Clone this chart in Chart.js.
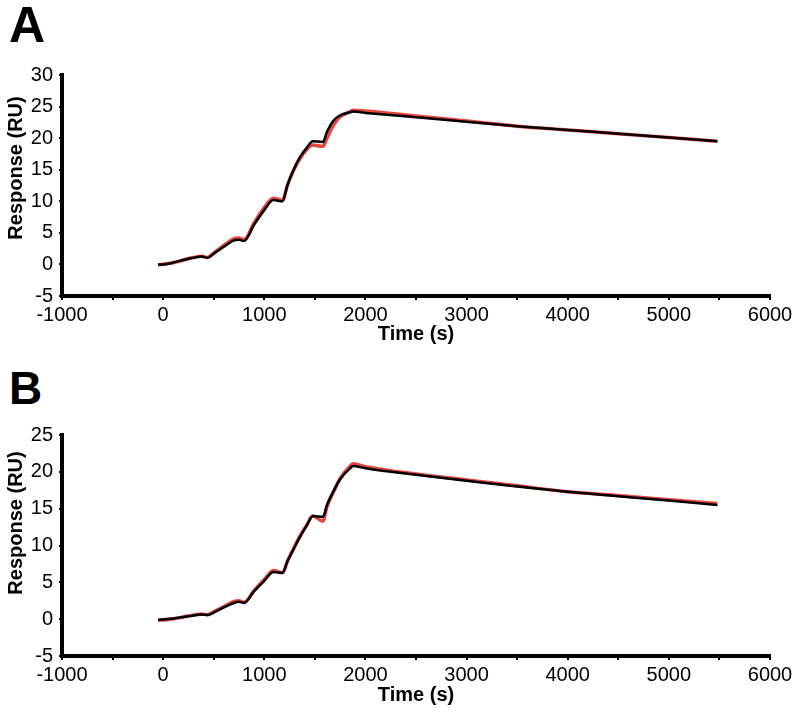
<!DOCTYPE html>
<html>
<head>
<meta charset="utf-8">
<script src="https://cdn.jsdelivr.net/npm/chart.js@4.4.1/dist/chart.umd.min.js"></script>
<style>
    body { margin: 0; background: #fff; font-family: "Liberation Sans", Arial, sans-serif; }
    .panel { position: absolute; left: 0; width: 800px; }
    .letter { position: absolute; left: 9px; font-weight: bold; line-height: 1; }
</style>
</head>
<body>
<div class="letter" style="top:0px; font-size:50px;">A</div>
<div class="panel" style="top:0; height:360px;"><canvas id="chartA"></canvas></div>
<div class="letter" style="top:365px; font-size:46px;">B</div>
<div class="panel" style="top:360px; height:357px;"><canvas id="chartB"></canvas></div>
<script>
// Time points (s)
let times = [-50, 0, 100, 200, 300, 380, 440, 500, 600, 700, 750, 800, 900, 1000, 1090, 1180,
    1230, 1290, 1350, 1420, 1480, 1580, 1620, 1685, 1750, 1850, 1880, 2000, 2500, 3000,
    3500, 4000, 4500, 5000, 5480];

// Panel A - fit (black) and measured (red)
let fitA = [0, 0, 0.3, 0.7, 1.05, 1.25, 1.05, 1.7, 2.8, 3.8, 3.9, 3.7, 6.3, 8.6, 10.2, 10.0,
    12.6, 15.0, 16.9, 18.5, 19.5, 19.4, 21.0, 22.8, 23.6, 24.1, 24.2, 24.0, 23.3, 22.6,
    21.9, 21.3, 20.7, 20.1, 19.5];
let dataA = [-0.1, 0.05, 0.25, 0.7, 1.1, 1.3, 1.1, 1.8, 3.0, 4.1, 4.2, 3.9, 6.6, 9.0, 10.5, 10.2,
    12.6, 14.9, 16.7, 18.2, 18.9, 18.7, 20.0, 22.1, 23.4, 24.2, 24.4, 24.3, 23.5, 22.7,
    21.9, 21.3, 20.7, 20.1, 19.5];

// Panel B
let fitB = [-0.1, -0.05, 0.1, 0.3, 0.5, 0.65, 0.55, 0.9, 1.6, 2.2, 2.35, 2.2, 3.8, 5.2, 6.4, 6.3,
    7.9, 9.5, 11.1, 12.7, 14.0, 13.9, 15.5, 17.4, 19.0, 20.5, 20.8, 20.5, 19.6, 18.8,
    18.0, 17.3, 16.7, 16.1, 15.5];
let dataB = [-0.1, -0.1, 0.05, 0.3, 0.55, 0.7, 0.6, 1.0, 1.7, 2.4, 2.5, 2.3, 3.9, 5.4, 6.6, 6.3,
    7.9, 9.6, 11.2, 12.8, 14.0, 13.3, 15.3, 17.3, 19.1, 20.8, 21.1, 20.7, 19.7, 18.9,
    18.1, 17.3, 16.8, 16.2, 15.7];

// Axis ticks
let xTicks = [-1000, 0, 1000, 2000, 3000, 4000, 5000, 6000];
let yTicksA = [-5, 0, 5, 10, 15, 20, 25, 30];
let yTicksB = [-5, 0, 5, 10, 15, 20, 25];

const fontFamily = '"Liberation Sans", Arial, sans-serif';

function points(ys) {
    return times.map(function (t, i) { return { x: t, y: ys[i] }; });
}

// y axis title, drawn a bit above the axis middle like the original
function yTitlePlugin(centerY) {
    return {
        id: 'yTitle',
        afterDraw: function (chart) {
            const c = chart.ctx;
            c.save();
            c.translate(16, centerY);
            c.rotate(-Math.PI / 2);
            c.font = 'bold 20px ' + fontFamily;
            c.fillStyle = '#000';
            c.textAlign = 'center';
            c.textBaseline = 'middle';
            c.fillText('Response (RU)', 0, 0);
            c.restore();
        }
    };
}

function makeChart(id, fit, data, yTicks, axisHeight, titlePad, yTitleCenter) {
    new Chart(document.getElementById(id), {
        type: 'line',
        data: {
            datasets: [{
                data: points(fit),
                borderColor: '#000000',
                borderWidth: 2.5,
                pointRadius: 0,
                cubicInterpolationMode: 'monotone'
            }, {
                data: points(data),
                borderColor: '#e8453c',
                borderWidth: 3.5,
                pointRadius: 0,
                cubicInterpolationMode: 'monotone'
            }]
        },
        options: {
            responsive: true,
            maintainAspectRatio: false,
            animation: false,
            layout: { padding: { top: 75, right: 30, left: 0, bottom: 0 } },
            plugins: { legend: { display: false }, tooltip: { enabled: false } },
            scales: {
                x: {
                    type: 'linear',
                    min: xTicks[0],
                    max: xTicks[xTicks.length - 1],
                    afterBuildTicks: function (scale) {
                        let t = [];
                        for (let i = 0; i < xTicks.length; i++) {
                            t.push({ value: xTicks[i] });
                            if (i < xTicks.length - 1) t.push({ value: xTicks[i] + 500 });
                        }
                        scale.ticks = t;
                    },
                    afterFit: function (scale) { scale.height = axisHeight; },
                    border: { display: true, color: '#000', width: 4 },
                    grid: { drawOnChartArea: false, color: '#000', tickLength: 4, lineWidth: 2 },
                    ticks: {
                        color: '#000',
                        padding: 3,
                        maxRotation: 0,
                        autoSkip: false,
                        font: { family: fontFamily, size: 20 },
                        callback: function (v) { return xTicks.indexOf(v) >= 0 ? String(v) : ''; }
                    },
                    title: {
                        display: true,
                        text: 'Time (s)',
                        color: '#000',
                        padding: { top: 0, bottom: titlePad },
                        font: { family: fontFamily, size: 20, weight: 'bold' }
                    }
                },
                y: {
                    min: yTicks[0],
                    max: yTicks[yTicks.length - 1],
                    afterBuildTicks: function (scale) {
                        scale.ticks = yTicks.map(function (v) { return { value: v }; });
                    },
                    afterFit: function (scale) { scale.width = 62; },
                    border: { display: true, color: '#000', width: 4 },
                    grid: { drawOnChartArea: false, color: '#000', tickLength: 3, lineWidth: 2 },
                    ticks: {
                        color: '#000',
                        padding: 6,
                        font: { family: fontFamily, size: 20 }
                    }
                }
            }
        },
        plugins: [yTitlePlugin(yTitleCenter)]
    });
}

makeChart('chartA', fitA, dataA, yTicksA, 64, 14, 168);
makeChart('chartB', fitB, dataB, yTicksB, 61, 10, 163);
</script>
</body>
</html>
